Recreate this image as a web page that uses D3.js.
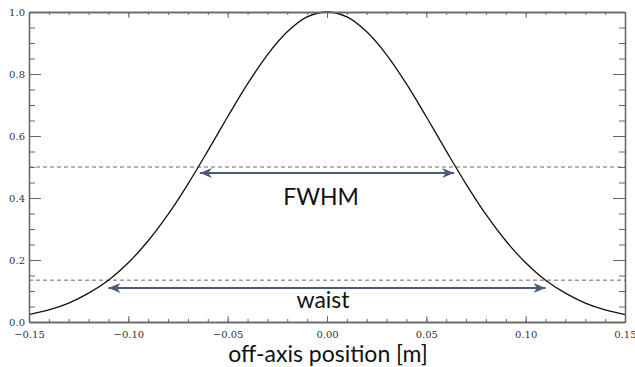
<!DOCTYPE html>
<html><head><meta charset="utf-8">
<script src="https://cdn.jsdelivr.net/npm/d3@7"></script>
<style>body{margin:0;background:#fff}svg{display:block}</style>
</head><body>
<svg id="c" width="635" height="367"></svg>
<script>
// Data
const xPos = [-0.15,-0.14,-0.13,-0.12,-0.11,-0.10,-0.09,-0.08,-0.07,-0.06,-0.05,-0.04,-0.03,-0.02,-0.01,0.00,
              0.01,0.02,0.03,0.04,0.05,0.06,0.07,0.08,0.09,0.10,0.11,0.12,0.13,0.14,0.15];
const intensity = [0.024,0.039,0.061,0.093,0.135,0.191,0.262,0.347,0.445,0.552,0.662,0.768,0.862,0.936,0.984,1.000,
                   0.984,0.936,0.862,0.768,0.662,0.552,0.445,0.347,0.262,0.191,0.135,0.093,0.061,0.039,0.024];
const xTicks = [-0.15,-0.10,-0.05,0.00,0.05,0.10,0.15];
const yTicks = [0.0,0.2,0.4,0.6,0.8,1.0];
const dashedLevels = [0.5, 0.135];
const fwhmEnds = [-0.064, 0.064];
const waistEnds = [-0.11, 0.11];
const fwhmLabel = "FWHM", waistLabel = "waist", xLabel = "off-axis position [m]";

const svg = d3.select("#c");
const L=29,R=625,T=12,B=322;
const x = d3.scaleLinear().domain([-0.15,0.15]).range([L,R]);
const y = d3.scaleLinear().domain([0,1]).range([B,T]);
const axisColor="#666";
const fmt = d => d3.format(".2f")(d).replace("-","\u2212");
const arrowColor="#4b5a79";

svg.append("defs").append("marker").attr("id","ah").attr("viewBox","0 0 12 10")
  .attr("refX",12).attr("refY",5).attr("markerWidth",12).attr("markerHeight",10)
  .attr("markerUnits","userSpaceOnUse").attr("orient","auto-start-reverse")
  .append("path").attr("d","M0,0 L12,5 L0,10 L3.5,5 Z").attr("fill",arrowColor);

// dashed lines
dashedLevels.forEach(v=>{
  svg.append("line").attr("x1",L).attr("x2",R).attr("y1",y(v)).attr("y2",y(v))
    .attr("stroke","#555").attr("stroke-width",0.9).attr("stroke-dasharray","4,3");
});

// curve
svg.append("path").datum(xPos.map((d,i)=>[d,intensity[i]]))
  .attr("d",d3.line().x(d=>x(d[0])).y(d=>y(d[1])).curve(d3.curveCatmullRom))
  .attr("fill","none").attr("stroke","#111").attr("stroke-width",1.3);

// axes
const minorX = d3.range(-0.15,0.1501,0.01), minorY = d3.range(0,1.001,0.05);
function styleAx(g){g.selectAll("path,line").attr("stroke",axisColor);g.select(".domain").attr("stroke-width",1.3);
  g.selectAll("text").attr("font-family","'DejaVu Serif','Liberation Serif',serif").attr("font-size",10).attr("fill","#333");}
svg.append("g").attr("transform",`translate(0,${B})`).call(d3.axisBottom(x).tickValues(minorX).tickSizeInner(-3).tickSizeOuter(0).tickFormat("")).call(styleAx);
svg.append("g").attr("transform",`translate(0,${B})`).call(d3.axisBottom(x).tickValues(xTicks).tickSizeInner(-6).tickSizeOuter(0).tickPadding(9).tickFormat(fmt)).call(styleAx);
svg.append("g").attr("transform",`translate(0,${T})`).call(d3.axisTop(x).tickValues(minorX).tickSizeInner(-3).tickSizeOuter(0).tickFormat("")).call(styleAx);
svg.append("g").attr("transform",`translate(0,${T})`).call(d3.axisTop(x).tickValues(xTicks).tickSizeInner(-6).tickSizeOuter(0).tickFormat("")).call(styleAx);
svg.append("g").attr("transform",`translate(${L},0)`).call(d3.axisLeft(y).tickValues(minorY).tickSizeInner(-6).tickSizeOuter(0).tickFormat("")).call(styleAx);
svg.append("g").attr("transform",`translate(${L},0)`).call(d3.axisLeft(y).tickValues(yTicks).tickSizeInner(-12).tickSizeOuter(0).tickPadding(4).tickFormat(d3.format(".1f"))).call(styleAx);
svg.append("g").attr("transform",`translate(${R},0)`).call(d3.axisRight(y).tickValues(minorY).tickSizeInner(-6).tickSizeOuter(0).tickFormat("")).call(styleAx);
svg.append("g").attr("transform",`translate(${R},0)`).call(d3.axisRight(y).tickValues(yTicks).tickSizeInner(-12).tickSizeOuter(0).tickFormat("")).call(styleAx);
// keep the last tick label inside the window
svg.selectAll("text").filter(function(){return this.textContent==="0.15";}).attr("text-anchor","end").attr("dx",11);

// arrows
function arrow(ends, yy){
  svg.append("line").attr("x1",x(ends[0])).attr("x2",x(ends[1])).attr("y1",yy).attr("y2",yy)
    .attr("stroke",arrowColor).attr("stroke-width",2.2)
    .attr("marker-start","url(#ah)").attr("marker-end","url(#ah)");
}
arrow(fwhmEnds, 173);
arrow(waistEnds, 288);

const sans="Lato,'Open Sans',sans-serif";
svg.append("text").attr("x",321).attr("y",205).attr("text-anchor","middle").attr("font-family",sans).attr("font-size",23).attr("fill","#111").text(fwhmLabel);
svg.append("text").attr("x",323).attr("y",308).attr("text-anchor","middle").attr("font-family",sans).attr("font-size",23).attr("fill","#111").text(waistLabel);
svg.append("text").attr("x",328).attr("y",362).attr("text-anchor","middle").attr("font-family",sans).attr("font-size",23).attr("fill","#111").text(xLabel);
</script>
</body></html>
